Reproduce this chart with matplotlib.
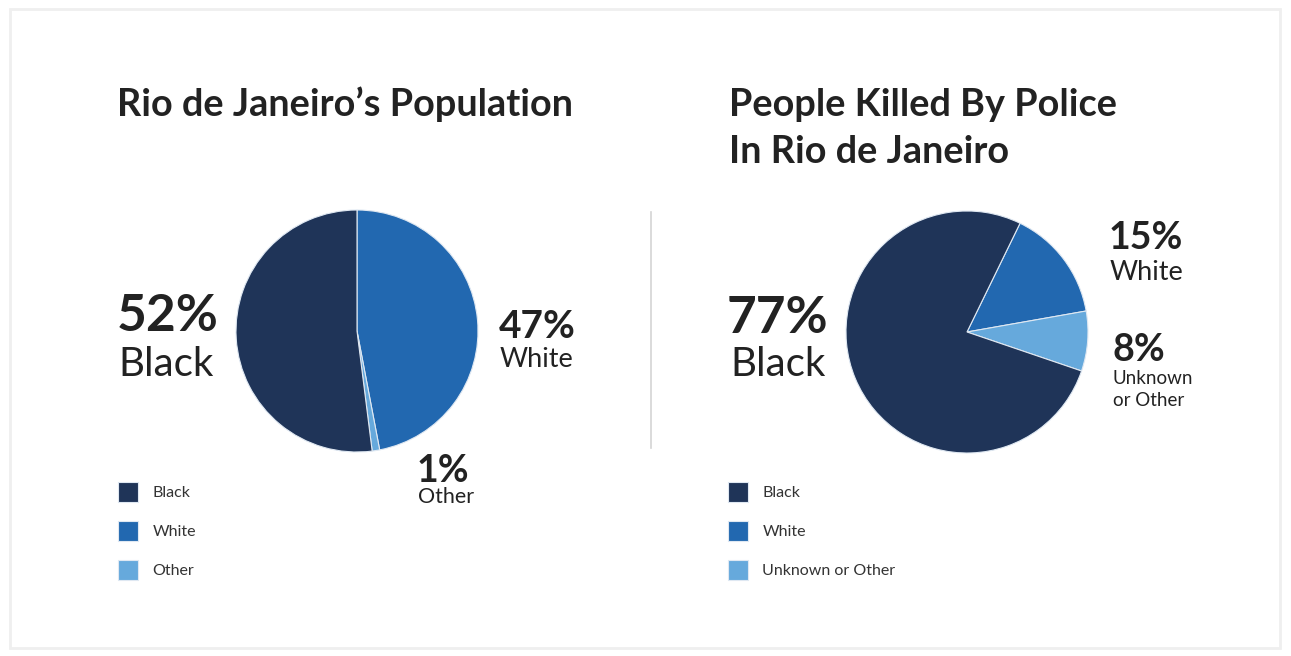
import matplotlib.pyplot as plt
from matplotlib.patches import Rectangle

W, H = 1291, 656

# Data
labels_left = ['Black', 'White', 'Other']
values_left = [52, 47, 1]
labels_right = ['Black', 'White', 'Unknown or Other']
values_right = [77, 15, 8]

colors = ['#1f3458', '#2268b0', '#66a9dc']
text_col = '#222222'
font = 'Lato'


def fx(x):
    return x / W


def fy(y):
    return 1 - y / H


def draw_pie(cx, cy, r, values, startangle):
    pad = 1.06
    ax = fig.add_axes([fx(cx - r * pad), fy(cy + r * pad), 2 * r * pad / W, 2 * r * pad / H])
    # drawn clockwise: White, Other, Black
    order = [1, 2, 0]
    wedges, _ = ax.pie([values[i] for i in order], colors=[colors[i] for i in order],
                       startangle=startangle, counterclock=False,
                       wedgeprops=dict(edgecolor='#dfe8f2', linewidth=0.8))
    ax.set_xlim(-pad, pad)
    ax.set_ylim(-pad, pad)
    ax.set_aspect('equal')
    handles = [wedges[2], wedges[0], wedges[1]]
    return ax, handles


fig = plt.figure(figsize=(W / 100, H / 100), dpi=100)
fig.patch.set_facecolor('white')

# soft frame
fig.patches.append(Rectangle((fx(10), fy(648)), fx(1280) - fx(10), fy(9) - fy(648),
                             transform=fig.transFigure, fill=False,
                             edgecolor='#efefef', linewidth=2))

# divider
fig.add_artist(plt.Line2D([fx(651), fx(651)], [fy(212), fy(448)],
                          color='#d4d4d4', linewidth=1.2))

# titles
fig.text(fx(117), fy(116), "Rio de Janeiro\u2019s Population", fontsize=27.3,
         fontweight='bold', family=font, color=text_col, va='baseline')
fig.text(fx(729), fy(116), "People Killed By Police", fontsize=27.3,
         fontweight='bold', family=font, color=text_col, va='baseline')
fig.text(fx(729), fy(163), "In Rio de Janeiro", fontsize=27.3,
         fontweight='bold', family=font, color=text_col, va='baseline')

# pies
ax1, h1 = draw_pie(357, 331, 121, values_left, 90)
ax2, h2 = draw_pie(967, 332, 121, values_right, 64)

# left annotations
fig.text(fx(117), fy(331), f"{values_left[0]}%", fontsize=37, fontweight='bold',
         family=font, color=text_col, va='baseline')
fig.text(fx(118), fy(376), labels_left[0], fontsize=29, family=font,
         color=text_col, va='baseline')
fig.text(fx(499), fy(338), f"{values_left[1]}%", fontsize=28, fontweight='bold',
         family=font, color=text_col, va='baseline')
fig.text(fx(500), fy(367), labels_left[1], fontsize=19.5, family=font,
         color=text_col, va='baseline')
fig.text(fx(417), fy(482), f"{values_left[2]}%", fontsize=27, fontweight='bold',
         family=font, color=text_col, va='baseline')
fig.text(fx(418), fy(503), labels_left[2], fontsize=15.5, family=font,
         color=text_col, va='baseline')

# right annotations
fig.text(fx(727), fy(333), f"{values_right[0]}%", fontsize=37, fontweight='bold',
         family=font, color=text_col, va='baseline')
fig.text(fx(730), fy(376), labels_right[0], fontsize=29, family=font,
         color=text_col, va='baseline')
fig.text(fx(1109), fy(249), f"{values_right[1]}%", fontsize=27, fontweight='bold',
         family=font, color=text_col, va='baseline')
fig.text(fx(1110), fy(280), labels_right[1], fontsize=19.5, family=font,
         color=text_col, va='baseline')
fig.text(fx(1112), fy(361), f"{values_right[2]}%", fontsize=27, fontweight='bold',
         family=font, color=text_col, va='baseline')
fig.text(fx(1113), fy(384), "Unknown", fontsize=13.5, family=font,
         color=text_col, va='baseline')
fig.text(fx(1113), fy(406), "or Other", fontsize=13.5, family=font,
         color=text_col, va='baseline')

# legends
leg_kw = dict(loc='upper left', frameon=False, borderpad=0, borderaxespad=0,
              handlelength=1.25, handleheight=1.55, labelspacing=1.19,
              handletextpad=0.9, prop={'family': font, 'size': 11.5},
              labelcolor='#333333')
fig.legend(h1, labels_left, bbox_to_anchor=(fx(118), fy(482)), **leg_kw)
fig.legend(h2, labels_right, bbox_to_anchor=(fx(728), fy(482)), **leg_kw)

fig.savefig('out.png', dpi=100)
